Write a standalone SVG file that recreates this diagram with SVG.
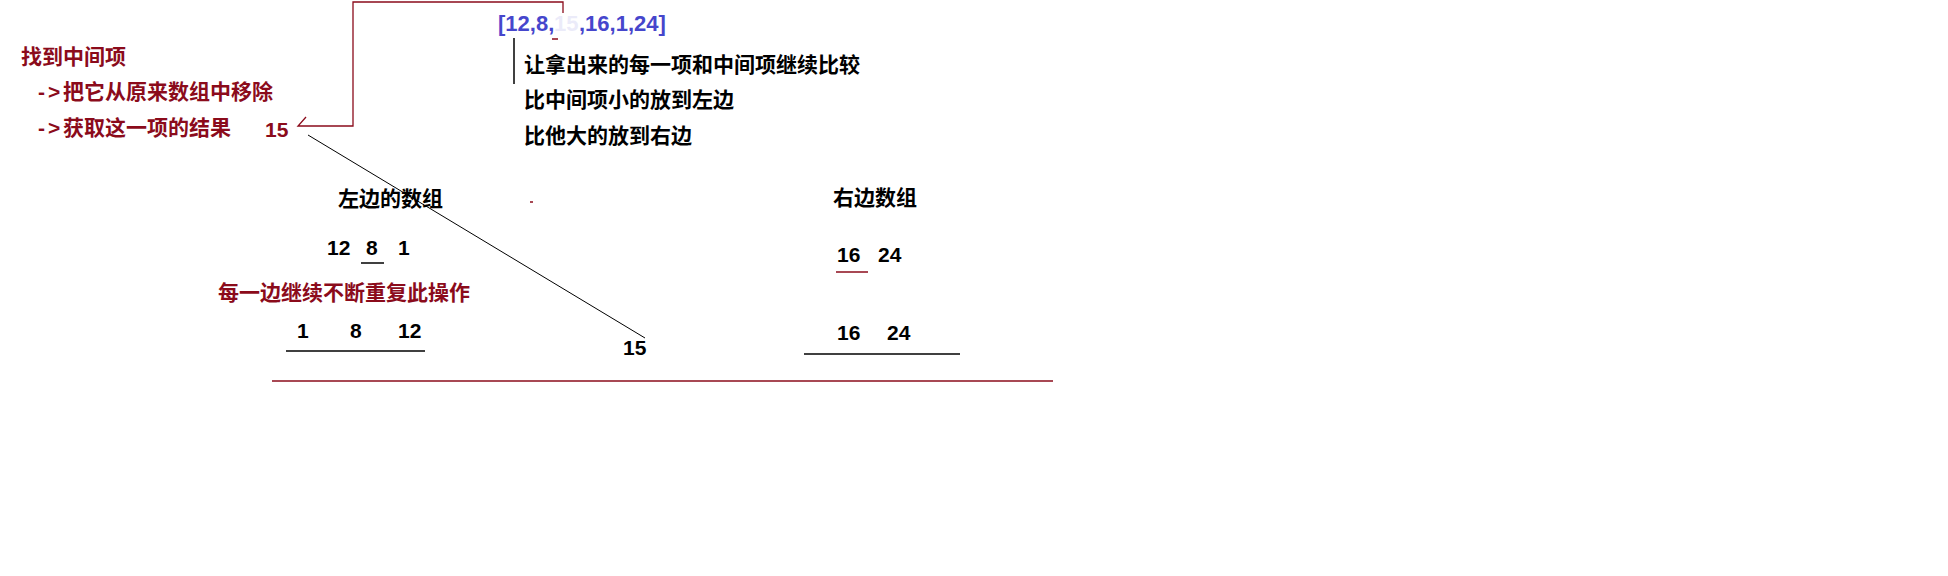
<svg xmlns="http://www.w3.org/2000/svg" width="1948" height="576" viewBox="0 0 1948 576">
<style>
text{font-family:"Liberation Sans","Noto Sans CJK SC",sans-serif;font-weight:bold;font-size:21px}
.red{fill:#8b0b1b}
.blk{fill:#000}
.blue{fill:#4646cc;font-size:22px}
.ln{fill:none;stroke-linecap:butt}
.mr{stroke:#8b0b1b}
.bk{stroke:#000}
</style>
<rect width="1948" height="576" fill="#fff"/>
<g id="connectors">
<polyline class="ln mr" stroke-width="1.3" points="306,117 298,126 353,126 353,2 563,2 563,13"/>
<line class="ln bk" x1="514" y1="38" x2="514" y2="84" stroke-width="1.5"/>
<line class="ln bk" x1="308" y1="135" x2="645" y2="338" stroke-width="1"/>
<line class="ln mr" x1="552" y1="39" x2="558" y2="39" stroke-width="1.5"/>
<line class="ln mr" x1="530" y1="202" x2="533" y2="202" stroke-width="1.5"/>
<line class="ln bk" x1="361" y1="263" x2="384" y2="263" stroke-width="1.5"/>
<line class="ln bk" x1="286" y1="351" x2="425" y2="351" stroke-width="1.5"/>
<line class="ln mr" x1="836" y1="272" x2="868" y2="272" stroke-width="1.5"/>
<line class="ln bk" x1="804" y1="354" x2="960" y2="354" stroke-width="1.5"/>
<line class="ln mr" x1="272" y1="381" x2="1053" y2="381" stroke-width="1.5"/>
</g>
<g id="steps">
<text class="red" x="21" y="64">找到中间项</text>
<text class="red" y="99"><tspan x="38">-</tspan><tspan x="48">&gt;</tspan><tspan x="63">把它从原来数组中移除</tspan></text>
<text class="red" y="135"><tspan x="38">-</tspan><tspan x="48">&gt;</tspan><tspan x="63">获取这一项的结果</tspan></text>
</g>
<g id="pivot">
<text class="red" x="265" y="137">15</text>
</g>
<g id="array">
<text class="blue" x="498" y="31">[12,8,</text>
<text class="blue" x="554" y="31" opacity="0.1">15</text>
<text class="blue" x="579" y="31">,16,1,24]</text>
</g>
<g id="explain">
<text class="blk" x="524" y="72">让拿出来的每一项和中间项继续比较</text>
<text class="blk" x="524" y="107">比中间项小的放到左边</text>
<text class="blk" x="524" y="143">比他大的放到右边</text>
</g>
<g id="left">
<text class="blk" x="338" y="206">左边的数组</text>
<text class="blk" x="327" y="255">12</text>
<text class="blk" x="366" y="255">8</text>
<text class="blk" x="398" y="255">1</text>
<text class="red" x="218" y="300">每一边继续不断重复此操作</text>
<text class="blk" x="297" y="338">1</text>
<text class="blk" x="350" y="338">8</text>
<text class="blk" x="398" y="338">12</text>
</g>
<g id="middle">
<text class="blk" x="623" y="355">15</text>
</g>
<g id="right">
<text class="blk" x="833" y="205">右边数组</text>
<text class="blk" x="837" y="262">16</text>
<text class="blk" x="878" y="262">24</text>
<text class="blk" x="837" y="340">16</text>
<text class="blk" x="887" y="340">24</text>
</g>
</svg>
